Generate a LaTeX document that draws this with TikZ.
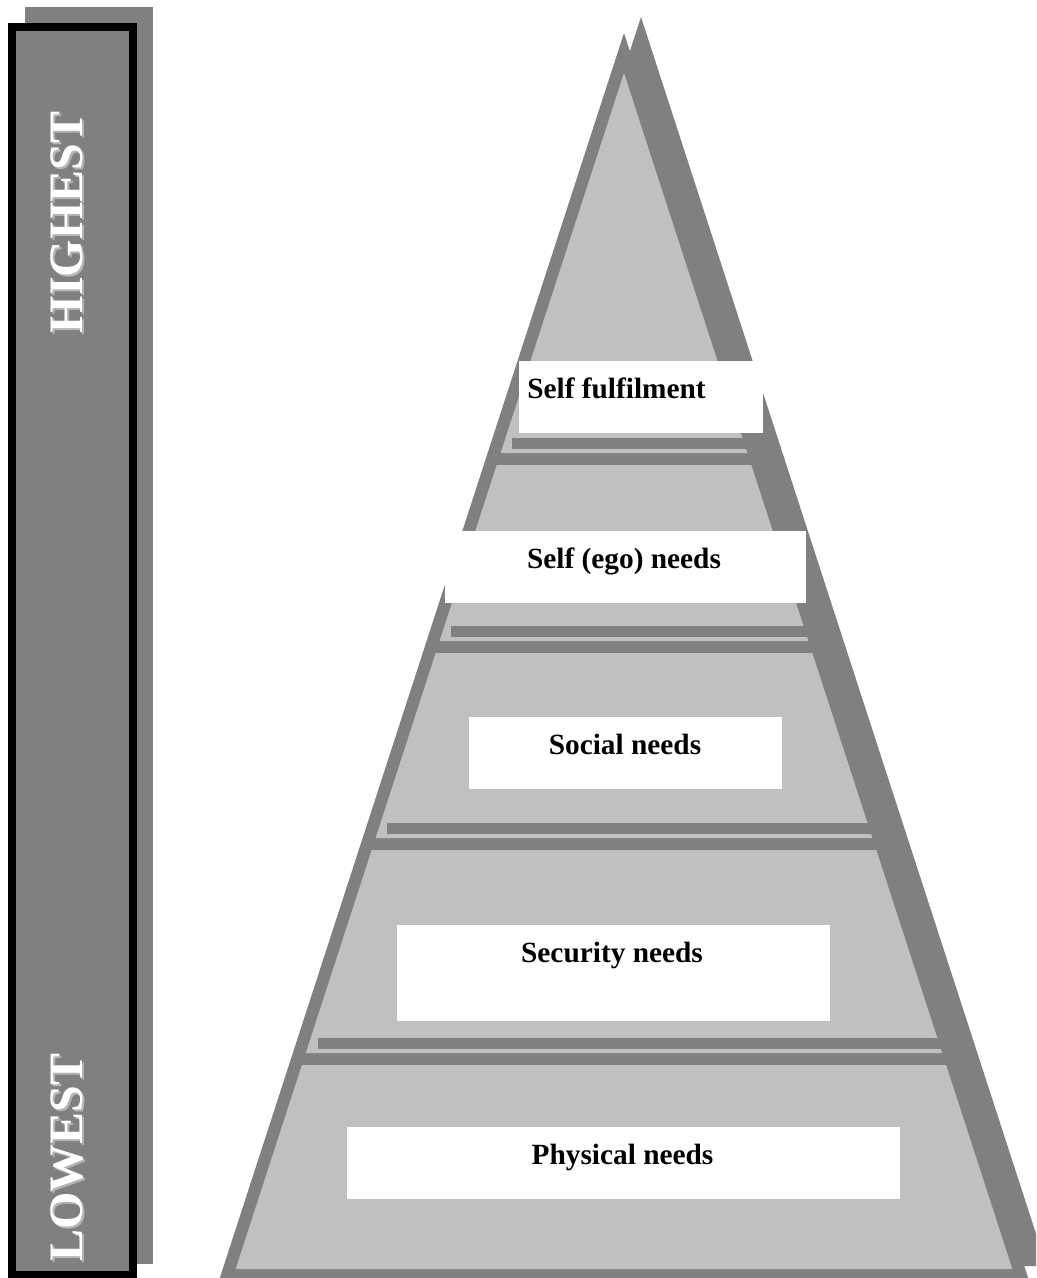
\documentclass[tikz,border=0pt]{standalone}
\usepackage{fontspec}
\setmainfont{Liberation Serif}
\usepackage{xcolor}
\usepackage{tikz}

\definecolor{pyrdark}{HTML}{808080}
\definecolor{pyrlight}{HTML}{C0C0C0}
\definecolor{embossgray}{HTML}{B4B4B4}

\begin{document}
\begin{tikzpicture}[x=0.75pt,y=-0.75pt,
  needtext/.style={font=\fontsize{22}{26}\selectfont\bfseries,inner sep=0pt,anchor=base},
  rankword/.style={font=\fontsize{36}{40}\selectfont\bfseries,inner sep=0pt,anchor=base,rotate=90}]
 \useasboundingbox (0,0) rectangle (1036,1278);
 \clip (0,0) rectangle (1036,1278);
 % rank bar on the left
 \fill[pyrdark] (25,7) rectangle (153,1264);
 \draw[line width=6pt,fill=pyrdark] (12,27) rectangle (133,1275);
 \foreach \w/\y in {HIGHEST/222.5,LOWEST/1157.5} {
   \node[rankword,embossgray] (sh\w) at (84,\y+2) {\w};
   \node[rankword,white] (\w) at (82,\y) {\w};
 }
 % pyramid: shadow, outline, then the light layers
 \def\slope{0.3247}
 \fill[pyrdark] (641,17) -- (1046.5,1266) -- (235.5,1266) -- cycle;
 \fill[pyrdark] (624,33) -- (1029.5,1282) -- (218.5,1282) -- cycle;
 \foreach \t/\b in {73/453,465/641,653/838,850/1053,1065/1269} {
   \pgfmathsetmacro{\lt}{624-\slope*(\t-33)+13}
   \pgfmathsetmacro{\rt}{624+\slope*(\t-33)-13}
   \pgfmathsetmacro{\lb}{624-\slope*(\b-33)+13}
   \pgfmathsetmacro{\rb}{624+\slope*(\b-33)-13}
   \fill[pyrlight] (\lt,\t) -- (\rt,\t) -- (\rb,\b) -- (\lb,\b) -- cycle;
 }
 \foreach \b in {453,641,838,1053} {
   \pgfmathsetmacro{\la}{624-\slope*(\b-48)+20}
   \pgfmathsetmacro{\ra}{624+\slope*(\b-37)}
   \fill[pyrdark] (\la,\b-15) rectangle (\ra,\b-4);
 }
 % label boxes
 \foreach \i/\xa/\ya/\xb/\yb/\tx/\lbl in {1/519/361/763/433/616.5/Self fulfilment,
     2/445/531/806/603/624/Self (ego) needs,
     3/469/717/782/789/625/Social needs,
     4/397/925/830/1021/612/Security needs,
     5/347/1127/900/1199/622.5/Physical needs} {
   \fill[white] (\xa,\ya) rectangle (\xb,\yb);
   \node[needtext] (need\i) at (\tx,\ya+37.5) {\lbl};
 }
\end{tikzpicture}
\end{document}
